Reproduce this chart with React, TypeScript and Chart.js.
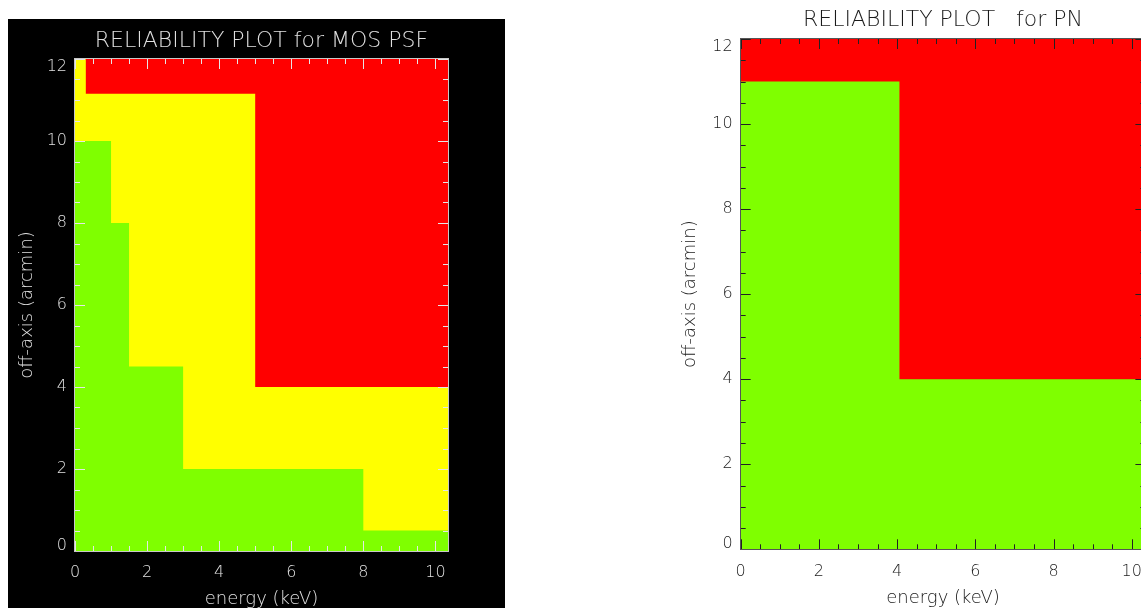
import React, { useEffect, useRef } from 'react';
import { Chart, registerables } from 'chart.js';

Chart.register(...registerables);

// ---- axis ranges and tick labels ----
const X_MAX = 10.35;
const Y_MAX = 12;
const X_TICKS = [0, 2, 4, 6, 8, 10];
const Y_TICKS = [0, 2, 4, 6, 8, 10, 12];
const MINOR_STEP = 0.5;

// ---- MOS PSF reliability regions (energy where limit changes, off-axis limit) ----
const MOS_GREEN_EDGES = [0, 1, 1.5, 3, 8];
const MOS_GREEN_LIMIT = [10, 8, 4.5, 2, 0.5];
const MOS_YELLOW_EDGES = [0, 0.3, 5];
const MOS_YELLOW_LIMIT = [12, 11.15, 4];
const MOS_RED_EDGES = [0];
const MOS_RED_LIMIT = [12];

// ---- PN reliability regions ----
const PN_GREEN_EDGES = [0, 4.06];
const PN_GREEN_LIMIT = [11, 4];
const PN_RED_EDGES = [0];
const PN_RED_LIMIT = [12];

const GREEN = '#7FFF00';
const YELLOW = '#FFFF00';
const RED = '#FF0000';

const FONT = 'DejaVu Sans';
const WEIGHT = 200;

function steps(edges: number[], limits: number[]) {
  const pts = edges.map((x, i) => ({ x, y: limits[i] }));
  pts.push({ x: X_MAX, y: limits[limits.length - 1] });
  return pts;
}

const frameAndTicks = {
  id: 'frameAndTicks',
  afterDatasetsDraw(chart: any, _args: any, opts: any) {
    const { ctx, chartArea: a, scales } = chart;
    const x = scales.x;
    const y = scales.y;
    const major = 10;
    const minor = 5;
    ctx.save();
    ctx.lineWidth = 1;
    ctx.strokeStyle = opts.tickColor;
    ctx.beginPath();
    for (let i = 0; i * MINOR_STEP <= X_MAX + 1e-9; i++) {
      const v = i * MINOR_STEP;
      const len = X_TICKS.includes(v) ? major : minor;
      const px = Math.round(x.getPixelForValue(v)) + 0.5;
      ctx.moveTo(px, a.bottom);
      ctx.lineTo(px, a.bottom - len);
      ctx.moveTo(px, a.top);
      ctx.lineTo(px, a.top + len);
    }
    for (let i = 0; i * MINOR_STEP <= Y_MAX + 1e-9; i++) {
      const v = i * MINOR_STEP;
      const len = Y_TICKS.includes(v) ? major : minor;
      const py = Math.round(y.getPixelForValue(v)) + 0.5;
      ctx.moveTo(a.left, py);
      ctx.lineTo(a.left + len, py);
      ctx.moveTo(a.right, py);
      ctx.lineTo(a.right - len, py);
    }
    ctx.stroke();
    ctx.strokeStyle = opts.frameColor;
    ctx.strokeRect(Math.round(a.left) - 0.5, Math.round(a.top) - 0.5,
      Math.round(a.right) - Math.round(a.left) + 1, Math.round(a.bottom) - Math.round(a.top) + 1);
    ctx.restore();
  },
};

type Panel = {
  title: string;
  fg: string;
  tickColor: string;
  frameColor: string;
  regions: { color: string; pts: { x: number; y: number }[] }[];
  width: number;
  height: number;
  areaLeft: number;
  areaTop: number;
  areaRight: number;
  areaBottom: number;
  titleCenter: number;
  yTitleCenter: number;
  xLabelCenter: number;
  xTitleCenter: number;
};

function makeConfig(p: Panel): any {
  const titleSize = 22;
  const titleLH = titleSize * 1.2;
  const padTop = p.titleCenter - titleLH / 2;
  const padBottom = p.areaTop - padTop - titleLH;
  const axisTitleSize = 18;
  const axisTitleLH = axisTitleSize * 1.2;
  const tickSize = 16;
  const tickLH = tickSize * 1.2;
  return {
    type: 'line',
    data: {
      datasets: p.regions.map((r, i) => ({
        data: r.pts,
        stepped: true,
        fill: 'origin',
        backgroundColor: r.color,
        borderColor: r.color,
        borderWidth: 0,
        pointRadius: 0,
        order: i,
      })),
    },
    options: {
      animation: false,
      responsive: false,
      devicePixelRatio: 1,
      layout: { padding: { left: 0, top: 0, right: p.width - p.areaRight, bottom: 0 } },
      plugins: {
        legend: { display: false },
        tooltip: { enabled: false },
        title: {
          display: true,
          text: p.title,
          color: p.fg,
          fullSize: false,
          font: { family: FONT, size: titleSize, weight: WEIGHT, lineHeight: 1.2 },
          padding: { top: padTop, bottom: padBottom },
        },
        frameAndTicks: { tickColor: p.tickColor, frameColor: p.frameColor },
      },
      scales: {
        x: {
          type: 'linear',
          min: 0,
          max: X_MAX,
          afterBuildTicks: (s: any) => { s.ticks = X_TICKS.map((value) => ({ value })); },
          afterFit: (s: any) => { s.height = p.height - p.areaBottom; },
          grid: { display: false, drawTicks: false },
          border: { display: false },
          ticks: {
            autoSkip: false,
            maxRotation: 0,
            color: p.fg,
            padding: p.xLabelCenter - p.areaBottom - tickLH / 2,
            font: { family: FONT, size: tickSize, weight: WEIGHT, lineHeight: 1.2 },
          },
          title: {
            display: true,
            text: 'energy (keV)',
            color: p.fg,
            font: { family: FONT, size: axisTitleSize, weight: WEIGHT, lineHeight: 1.2 },
            padding: { top: 0, bottom: p.height - p.xTitleCenter - axisTitleLH / 2 },
          },
        },
        y: {
          type: 'linear',
          min: 0,
          max: Y_MAX,
          afterBuildTicks: (s: any) => { s.ticks = Y_TICKS.map((value) => ({ value })); },
          afterFit: (s: any) => { s.width = p.areaLeft; },
          grid: { display: false, drawTicks: false },
          border: { display: false },
          ticks: {
            autoSkip: false,
            color: p.fg,
            padding: 8,
            callback: (v: number) => (v === Y_MAX ? ['', String(v)] : v === 0 ? [String(v), ''] : String(v)),
            font: (c: any) => ({
              family: FONT,
              size: tickSize,
              weight: WEIGHT,
              lineHeight: c.tick && c.tick.value === Y_MAX ? 1.0 : c.tick && c.tick.value === 0 ? 0.63 : 1.2,
            }),
          },
          title: {
            display: true,
            text: 'off-axis (arcmin)',
            color: p.fg,
            font: { family: FONT, size: axisTitleSize, weight: WEIGHT, lineHeight: 1.2 },
            padding: { top: p.yTitleCenter - axisTitleLH / 2, bottom: 0 },
          },
        },
      },
    },
    plugins: [frameAndTicks],
  };
}

const MOS_PANEL: Panel = {
  title: 'RELIABILITY PLOT for MOS PSF',
  fg: '#E0E0E0',
  tickColor: '#E6E6E6',
  frameColor: '#C8C8C8',
  regions: [
    { color: GREEN, pts: steps(MOS_GREEN_EDGES, MOS_GREEN_LIMIT) },
    { color: YELLOW, pts: steps(MOS_YELLOW_EDGES, MOS_YELLOW_LIMIT) },
    { color: RED, pts: steps(MOS_RED_EDGES, MOS_RED_LIMIT) },
  ],
  width: 497,
  height: 600,
  areaLeft: 67,
  areaTop: 40,
  areaRight: 440,
  areaBottom: 532,
  titleCenter: 22,
  yTitleCenter: 19.5,
  xLabelCenter: 554,
  xTitleCenter: 580.5,
};

const PN_PANEL: Panel = {
  title: 'RELIABILITY PLOT   for PN',
  fg: '#1A1A1A',
  tickColor: '#222222',
  frameColor: '#555555',
  regions: [
    { color: GREEN, pts: steps(PN_GREEN_EDGES, PN_GREEN_LIMIT) },
    { color: RED, pts: steps(PN_RED_EDGES, PN_RED_LIMIT) },
  ],
  width: 500,
  height: 620,
  areaLeft: 80.7,
  areaTop: 39,
  areaRight: 485.4,
  areaBottom: 549.3,
  titleCenter: 20,
  yTitleCenter: 30,
  xLabelCenter: 571.5,
  xTitleCenter: 598.5,
};

export default function App() {
  const leftRef = useRef<HTMLCanvasElement>(null);
  const rightRef = useRef<HTMLCanvasElement>(null);
  useEffect(() => {
    const c1 = new Chart(leftRef.current as HTMLCanvasElement, makeConfig(MOS_PANEL));
    const c2 = new Chart(rightRef.current as HTMLCanvasElement, makeConfig(PN_PANEL));
    return () => {
      c1.destroy();
      c2.destroy();
    };
  }, []);
  return (
    <div style={{ position: 'fixed', left: 0, top: 0, width: 1141, height: 608, overflow: 'hidden', background: '#fff' }}>
      <canvas
        ref={leftRef}
        width={MOS_PANEL.width}
        height={MOS_PANEL.height}
        style={{ position: 'absolute', left: 8, top: 19, width: MOS_PANEL.width, height: MOS_PANEL.height, background: '#000' }}
      />
      <canvas
        ref={rightRef}
        width={PN_PANEL.width}
        height={PN_PANEL.height}
        style={{ position: 'absolute', left: 660, top: 0, width: PN_PANEL.width, height: PN_PANEL.height }}
      />
    </div>
  );
}
